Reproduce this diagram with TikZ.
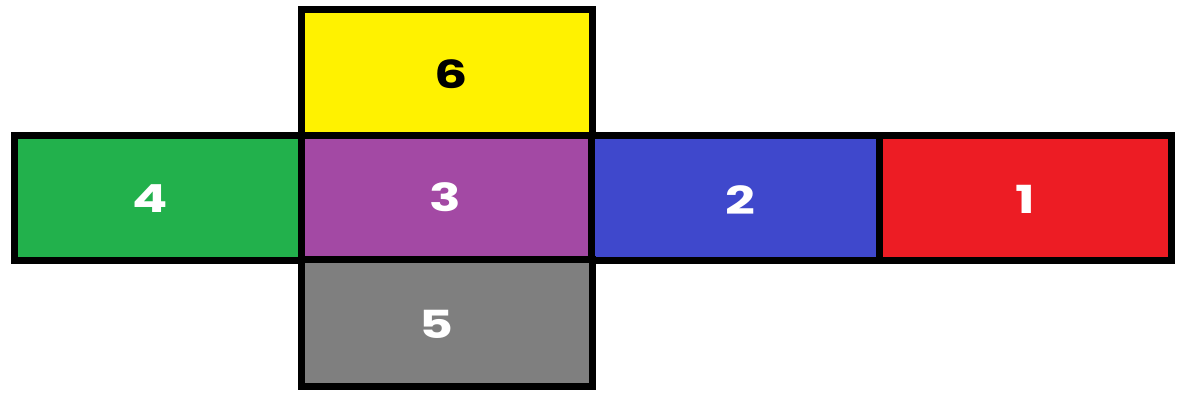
\documentclass[tikz,border=0pt]{standalone}
\usepackage{fontspec}
\setmainfont{Poppins}
\definecolor{cyellow}{HTML}{FFF200}
\definecolor{cgreen}{HTML}{22B14C}
\definecolor{cpurple}{HTML}{A349A4}
\definecolor{cblue}{HTML}{3F48CC}
\definecolor{cred}{HTML}{ED1C24}
\definecolor{cgray}{HTML}{7F7F7F}
\tikzset{
  face/.style={draw=black, line width=0.07cm, rectangle, inner sep=0pt, outer sep=0pt},
  num/.style={font=\fontsize{11}{12}\selectfont\bfseries, inner sep=0pt, xscale=1.35},
}
\begin{document}
\begin{tikzpicture}[x=0.01cm,y=-0.01cm]
\useasboundingbox (0,0) rectangle (1200,400);
\fill[white] (0,0) rectangle (1200,400);
% faces
\node[face, fill=cyellow, minimum width=2.90cm, minimum height=1.255cm] (f6) at (447,72.75) {};
\node[face, fill=cgreen,  minimum width=2.87cm, minimum height=1.245cm] (f4) at (158.5,197.75) {};
\node[face, fill=cpurple, minimum width=2.90cm, minimum height=1.245cm] (f3) at (447,197.75) {};
\node[face, fill=cblue,   minimum width=2.88cm, minimum height=1.245cm] (f2) at (736,197.75) {};
\node[face, fill=cred,    minimum width=2.91cm, minimum height=1.245cm] (f1) at (1025.5,197.75) {};
\node[face, fill=cgray,   minimum width=2.90cm, minimum height=1.26cm] (f5) at (447,323) {};
% numbers
\node[num, text=black] (t6) at (451,74) {6};
\node[num, text=white] (t4) at (150,199) {4};
\node[num, text=white] (t3) at (445,197) {3};
\node[num, text=white] (t2) at (740,200) {2};
\node[num, text=white] (t1) at (1025,199) {1};
\node[num, text=white] (t5) at (436,324) {5};
\end{tikzpicture}
\end{document}
